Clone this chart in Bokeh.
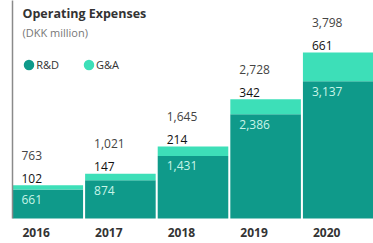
from bokeh.plotting import figure
from bokeh.models import (ColumnDataSource, Range1d, FixedTicker, Label, Legend,
                          LegendItem)
from bokeh.core.properties import value
from bokeh.embed import file_html
from bokeh.resources import INLINE

years = ["2016", "2017", "2018", "2019", "2020"]
rd = [661, 874, 1431, 2386, 3137]
ga = [102, 147, 214, 342, 661]
total = [763, 1021, 1645, 2728, 3798]

title_text = "Operating Expenses"
subtitle_text = "(DKK million)"
series_names = ["R&D", "G&A"]

RD_COLOR = "#0f9a8a"
GA_COLOR = "#3ddfb8"
FONT = "Open Sans"

Y_TOP = 4987
bar_w = 0.972
idx = list(range(len(years)))
src = ColumnDataSource(dict(
    x=idx,
    left=[i - bar_w / 2 for i in idx],
    year=years,
    rd=rd,
    total=total,
    rd_lab=[f"{v:,}" for v in rd],
    ga_lab=[f"{v:,}" for v in ga],
    tot_lab=[f"{v:,}" for v in total],
))

p = figure(width=373, height=243, output_backend="svg", toolbar_location=None,
           x_range=Range1d(-bar_w / 2, len(years) - 1 + bar_w / 2),
           y_range=Range1d(-572, Y_TOP),
           x_axis_location=None, y_axis_location="left",
           min_border=0, min_border_left=12)
p.outline_line_color = None
p.grid.visible = False
p.background_fill_color = "white"
p.border_fill_color = "white"

ya = p.yaxis[0]
ya.ticker = FixedTicker(ticks=[])
ya.major_tick_out = 0
ya.major_tick_in = 0
ya.minor_tick_out = 0
ya.minor_tick_in = 0
ya.major_label_standoff = 0
ya.major_label_text_font_size = "0px"
ya.axis_line_color = "#8a8a8a"
ya.axis_line_width = 1.5
ya.bounds = (0, Y_TOP)

# legend markers: zero-size points hidden under the bars; the legend sizes its own swatch
r1 = p.scatter(x="x", y="rd", source=src, size=0, fill_color=RD_COLOR,
               line_color=RD_COLOR, line_width=4.5, level="underlay")
r2 = p.scatter(x="x", y="rd", source=src, size=0, fill_color=GA_COLOR,
               line_color=GA_COLOR, line_width=4.5, level="underlay")

p.vbar(x="x", width=bar_w, bottom=0, top="rd", source=src,
       fill_color=RD_COLOR, line_color=None)
p.vbar(x="x", width=bar_w, bottom="rd", top="total", source=src,
       fill_color=GA_COLOR, line_color=None)

common = dict(text_font=value(FONT), text_font_size="12px", x_offset=9,
              text_baseline="middle")
p.text(x="left", y="total", text="tot_lab", source=src, y_offset=-30,
       text_color="#444444", **common)
p.text(x="left", y="total", text="ga_lab", source=src, y_offset=-7,
       text_color="#111111", **common)
p.text(x="left", y="rd", text="rd_lab", source=src, y_offset=10,
       text_color="#c8f5e8", **common)
p.text(x="left", y=0, text="year", source=src, y_offset=14, x_offset=10,
       text_baseline="middle", text_color="#333333", text_font_style="bold",
       text_font=value(FONT), text_font_size="12px")

p.add_layout(Label(x=10, y=230, x_units="screen", y_units="screen", text=title_text,
                   text_font=FONT, text_font_size="12.5px", text_font_style="bold",
                   text_color="#333333", text_baseline="middle"))
p.add_layout(Label(x=10, y=211, x_units="screen", y_units="screen", text=subtitle_text,
                   text_font=FONT, text_font_size="11px",
                   text_color="#777777", text_baseline="middle"))

leg = Legend(items=[LegendItem(label=series_names[0], renderers=[r1], index=0),
                    LegendItem(label=series_names[1], renderers=[r2], index=0)],
             location=(9.2, 171), orientation="horizontal",
             glyph_width=15, glyph_height=15, label_height=10, label_width=10,
             label_standoff=0, spacing=22, padding=0, margin=0,
             border_line_color=None, background_fill_alpha=0,
             label_text_font=FONT, label_text_font_size="11px", label_text_color="#333333")
p.add_layout(leg, "center")

open("out.html", "w").write(file_html(p, INLINE))
